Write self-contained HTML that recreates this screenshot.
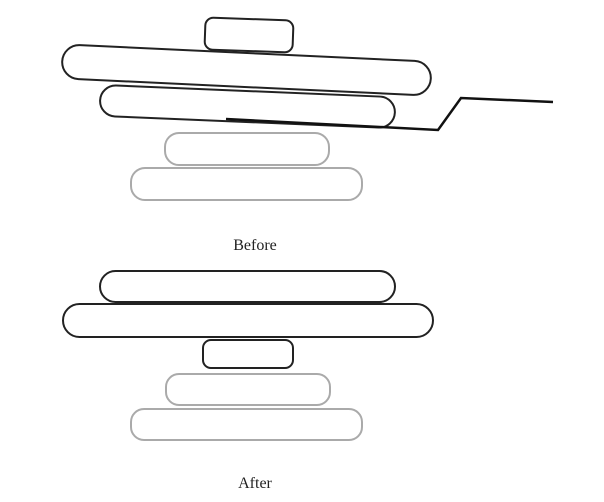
<!DOCTYPE html>
<html><head><meta charset="utf-8"><style>
html,body{margin:0;padding:0;background:#fff;}
svg{display:block}
</style></head><body>
<svg width="604" height="502" viewBox="0 0 604 502" xmlns="http://www.w3.org/2000/svg">
<g fill="#fff" stroke-width="2">
<!-- Before -->
<rect x="205" y="19" width="88" height="32" rx="8" stroke="#222" transform="rotate(2 249 35)"/>
<rect x="62" y="53" width="369" height="34" rx="17" stroke="#222" transform="rotate(2.7 246 70)"/>
<rect x="100" y="91" width="295" height="31" rx="15.5" stroke="#222" transform="rotate(2.4 247 106)"/>
<polyline points="226,119 438,130 461,98 553,102" fill="none" stroke="#111" stroke-width="2.5"/>
<rect x="165" y="133" width="164" height="32" rx="14" stroke="#aaa"/>
<rect x="131" y="168" width="231" height="32" rx="14" stroke="#aaa"/>
<!-- After -->
<rect x="100" y="271" width="295" height="31" rx="15.5" stroke="#222"/>
<rect x="63" y="304" width="370" height="33" rx="16.5" stroke="#222"/>
<rect x="203" y="340" width="90" height="28" rx="8" stroke="#222"/>
<rect x="166" y="374" width="164" height="31" rx="13" stroke="#aaa"/>
<rect x="131" y="409" width="231" height="31" rx="13" stroke="#aaa"/>
</g>
<g font-family="Liberation Serif, serif" font-size="16" fill="#222" text-anchor="middle">
<text x="255" y="250">Before</text>
<text x="255" y="488">After</text>
</g>
</svg>
</body></html>
